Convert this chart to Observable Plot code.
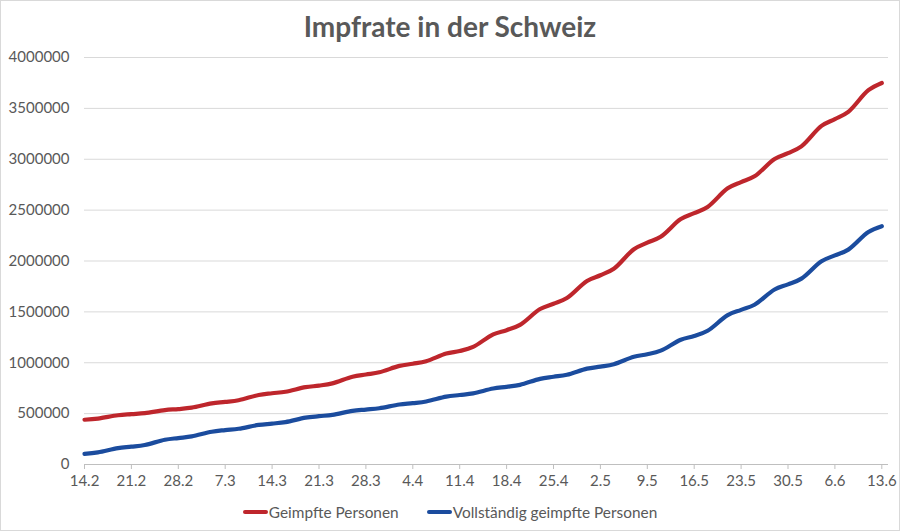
<!DOCTYPE html>
<html>
<head>
<meta charset="utf-8">
<script src="https://cdn.jsdelivr.net/npm/d3@7"></script>
<script src="https://cdn.jsdelivr.net/npm/@observablehq/plot@0.6"></script>
<style>
  html, body { margin: 0; padding: 0; background: #fff; }
  #wrap { position: relative; width: 900px; height: 531px; background: #fff; font-family: Lato, "Open Sans", sans-serif; color: #595959; }
  #border { position: absolute; left: 0; top: 0; width: 900px; height: 531px; box-sizing: border-box; border: 1px solid #d9d9d9; pointer-events: none; }
  #title { position: absolute; left: 0; top: 8px; width: 900px; text-align: center; font-size: 28px; font-weight: bold; color: #595959; line-height: 36px; }
  #chart { position: absolute; left: 0; top: 45px; }
  #legend { position: absolute; left: 0; top: 501px; width: 900px; display: flex; justify-content: center; gap: 28px; font-size: 15.4px; line-height: 22px; }
  .item { display: flex; align-items: center; }
  .sw { display: inline-block; width: 25px; height: 4px; border-radius: 2px; margin-right: 1px; }
</style>
</head>
<body>
<div id="wrap">
  <div id="title">Impfrate in der Schweiz</div>
  <div id="chart"></div>
  <div id="legend"></div>
  <div id="border"></div>
</div>
<script>
const seriesNames = ["Geimpfte Personen", "Vollständig geimpfte Personen"];
const seriesColors = ["#be262c", "#1b4c9e"];

const dates = [
  "2021-02-14","2021-02-16","2021-02-19",
  "2021-02-21","2021-02-23","2021-02-26",
  "2021-02-28","2021-03-02","2021-03-05",
  "2021-03-07","2021-03-09","2021-03-12",
  "2021-03-14","2021-03-16","2021-03-19",
  "2021-03-21","2021-03-23","2021-03-26",
  "2021-03-28","2021-03-30","2021-04-02",
  "2021-04-04","2021-04-06","2021-04-09",
  "2021-04-11","2021-04-13","2021-04-16",
  "2021-04-18","2021-04-20","2021-04-23",
  "2021-04-25","2021-04-27","2021-04-30",
  "2021-05-02","2021-05-04","2021-05-07",
  "2021-05-09","2021-05-11","2021-05-14",
  "2021-05-16","2021-05-18","2021-05-21",
  "2021-05-23","2021-05-25","2021-05-28",
  "2021-05-30","2021-06-01","2021-06-04",
  "2021-06-06","2021-06-08","2021-06-11",
  "2021-06-13"
];

const geimpft = [
  440000, 451000, 484000,
  495000, 505000, 535000,
  545000, 559000, 601000,
  615000, 632000, 683000,
  700000, 715000, 760000,
  775000, 797000, 863000,
  885000, 906000, 969000,
  990000, 1015000, 1090000,
  1115000, 1156000, 1279000,
  1320000, 1372000, 1528000,
  1580000, 1636000, 1804000,
  1860000, 1924000, 2116000,
  2180000, 2238000, 2412000,
  2470000, 2531000, 2714000,
  2775000, 2832000, 3003000,
  3060000, 3127000, 3328000,
  3395000, 3466000, 3679000,
  3750000
];

const vollstaendig = [
  105000, 119000, 161000,
  175000, 192000, 243000,
  260000, 276000, 322000,
  338000, 351000, 389000,
  402000, 417000, 460000,
  475000, 488000, 527000,
  540000, 553000, 590000,
  603000, 619000, 667000,
  683000, 699000, 747000,
  763000, 783000, 842000,
  862000, 882000, 942000,
  962000, 986000, 1059000,
  1083000, 1119000, 1226000,
  1262000, 1314000, 1468000,
  1520000, 1570000, 1720000,
  1770000, 1827000, 1998000,
  2055000, 2112000, 2285000,
  2342000
];

const xTickLabels = ["14.2","21.2","28.2","7.3","14.3","21.3","28.3","4.4","11.4","18.4","25.4","2.5","9.5","16.5","23.5","30.5","6.6","13.6"];
const xTickDates = ["2021-02-14","2021-02-21","2021-02-28","2021-03-07","2021-03-14","2021-03-21","2021-03-28","2021-04-04","2021-04-11","2021-04-18","2021-04-25","2021-05-02","2021-05-09","2021-05-16","2021-05-23","2021-05-30","2021-06-06","2021-06-13"];
const yTicks = [0, 500000, 1000000, 1500000, 2000000, 2500000, 3000000, 3500000, 4000000];

const data = [];
dates.forEach((d, i) => {
  data.push({date: new Date(d), value: geimpft[i], series: seriesNames[0]});
});
dates.forEach((d, i) => {
  data.push({date: new Date(d), value: vollstaendig[i], series: seriesNames[1]});
});

const tickDates = xTickDates.map(d => new Date(d));
const labelOf = new Map(xTickDates.map((d, i) => [new Date(d).getTime(), xTickLabels[i]]));

const chart = Plot.plot({
  width: 900,
  height: 455,
  marginLeft: 84,
  marginRight: 12,
  marginTop: 12,
  marginBottom: 36,
  style: {fontFamily: "Lato, 'Open Sans', sans-serif", fontSize: "15px", color: "#595959", background: "transparent"},
  x: {type: "utc", domain: [new Date("2021-02-14"), new Date("2021-06-14")], label: null},
  y: {domain: [0, 4000000], label: null},
  color: {domain: seriesNames, range: seriesColors},
  marks: [
    Plot.gridY(yTicks, {stroke: "#d9d9d9", strokeOpacity: 1}),
    Plot.ruleY([0], {stroke: "#bfbfbf"}),
    Plot.axisY(yTicks, {tickSize: 0, tickPadding: 15, tickFormat: d => String(d), label: null, fontSize: 15}),
    Plot.axisX(tickDates, {tickSize: 5, tickPadding: 6, tickFormat: d => labelOf.get(d.getTime()), label: null, stroke: "#bfbfbf", fontSize: 15}),
    Plot.line(data, {x: "date", y: "value", z: "series", stroke: "series", strokeWidth: 4.2, curve: "catmull-rom", strokeLinecap: "round", strokeLinejoin: "round"})
  ]
});
document.getElementById("chart").appendChild(chart);

const legend = document.getElementById("legend");
seriesNames.forEach((name, i) => {
  const item = document.createElement("div");
  item.className = "item";
  const sw = document.createElement("span");
  sw.className = "sw";
  sw.style.background = seriesColors[i];
  const label = document.createElement("span");
  label.textContent = name;
  item.appendChild(sw);
  item.appendChild(label);
  legend.appendChild(item);
});
</script>
</body>
</html>
